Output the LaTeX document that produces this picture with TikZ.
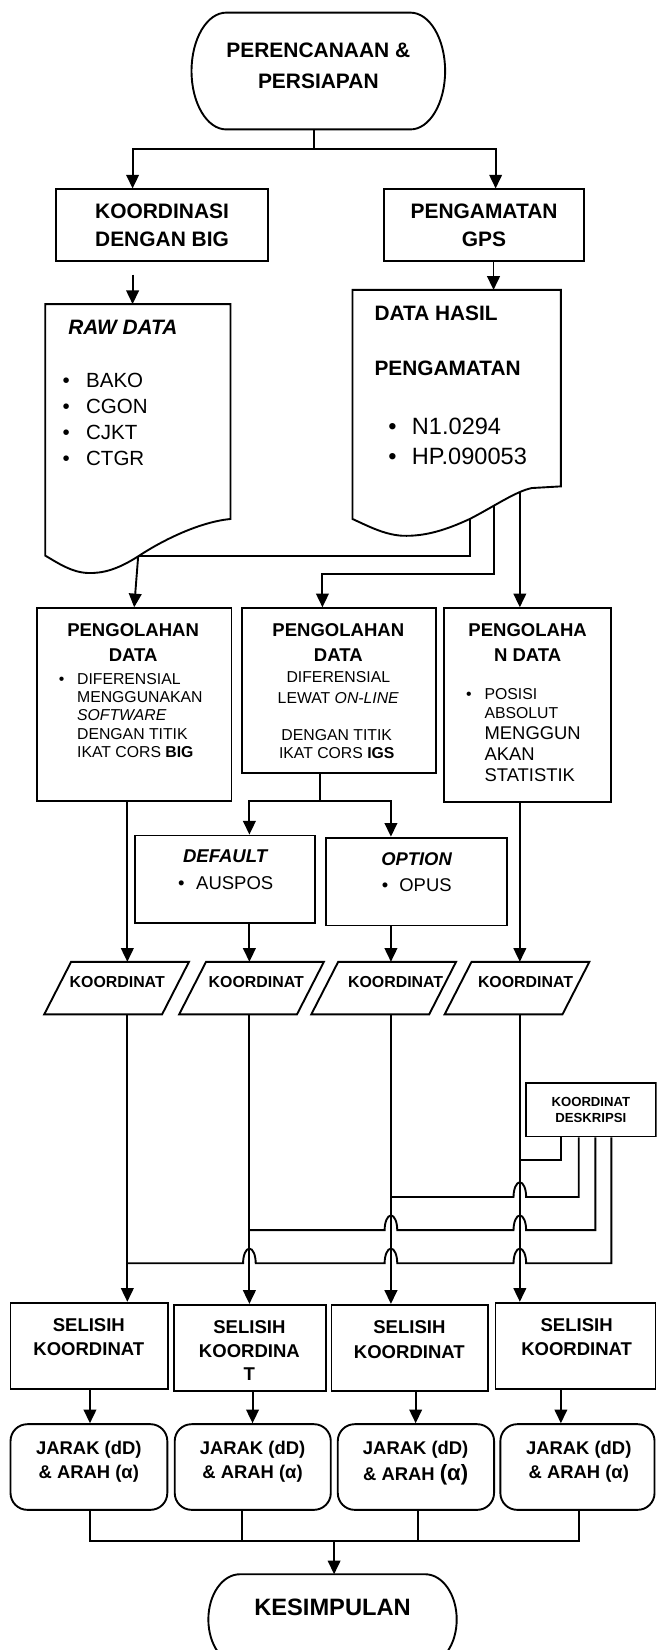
\documentclass[tikz,border=0pt]{standalone}
\usepackage{fontspec}
\setmainfont{Liberation Sans}
\usetikzlibrary{arrows.meta,calc}
\newcommand\myfs[2]{\fontsize{#1}{#2}\selectfont}
\newcommand\bul[1]{\llap{\textbullet\hspace{#1}}}
\newcommand\paral[2]{%
  \node[ghost, minimum width=112pt, minimum height=50pt] (#1) at (#2,939) {};
  \draw ([xshift=12.8pt]#1.north west) -- ([xshift=12.8pt]#1.north east) -- ([xshift=-12.8pt]#1.south east) -- ([xshift=-12.8pt]#1.south west) -- cycle;}
\begin{document}
\begin{tikzpicture}[x=1pt,y=-1pt, line width=1.8pt,
  arr/.style={-{Triangle[width=12pt,length=13pt]}},
  box/.style={draw, rectangle, inner sep=0pt},
  ghost/.style={rectangle, inner sep=0pt, outer sep=0pt},
  rbox/.style={draw, rectangle, rounded corners=16pt, inner sep=0pt},
  txt/.style={inner sep=0pt, align=center},
  ltxt/.style={inner sep=0pt, align=left, anchor=west}]
\useasboundingbox (0,0) rectangle (624,1568);
\fill[white] (0,0) rectangle (624,1568);
\clip (0,0) rectangle (624,1568);

% ---- start terminal
\node[ghost, minimum width=241pt, minimum height=111pt] (start) at (302.5,67.5) {};
\draw (215,12) -- (390,12) arc[start angle=-90,end angle=90,x radius=33,y radius=55.5] -- (215,123) arc[start angle=90,end angle=270,x radius=33,y radius=55.5] -- cycle;
\node[txt, font=\myfs{19.9}{29}\bfseries] (startt) at (302.5,62.5) {PERENCANAAN \&\\PERSIAPAN};

% ---- first level
\node[box, minimum width=202pt, minimum height=68pt, align=center, font=\myfs{19.9}{26}\bfseries] (k1) at (154,214) {KOORDINASI\\DENGAN BIG};
\node[box, minimum width=190pt, minimum height=68pt, align=center, font=\myfs{19.9}{26}\bfseries] (k2) at (460,214) {PENGAMATAN\\GPS};

\coordinate (br) at (298,142);
\draw ([xshift=-4.5pt]start.south) -- (br);
\draw[arr] (br) -| ([xshift=-28pt]k1.north);
\draw[arr] (br) -| ([xshift=11pt]k2.north);

% ---- raw data document
\node[ghost, minimum width=176pt, minimum height=239pt] (raw) at (131,408.5) {};
\draw (43,289) -- (219,289) -- (219,493.2) .. controls (190,496) and (155,513) .. (131.3,528.7) .. controls (112,541) and (98,545) .. (83.6,544.5) .. controls (68,544) and (55,535) .. (43,528) -- cycle;
\node[ltxt, font=\myfs{19.8}{24}\bfseries\itshape] (rawh) at (64,311) {RAW DATA};
\node[ltxt, font=\myfs{19.5}{24.7}] (rawl) at (81,398.25) {\bul{15.6pt}BAKO\\\bul{15.6pt}CGON\\\bul{15.6pt}CJKT\\\bul{15.6pt}CTGR};
\coordinate (k1a) at (126,261);
\draw[arr] (k1a) -- (k1a |- raw.north);

% ---- data hasil document
\node[ghost, minimum width=198pt, minimum height=217.5pt] (hasil) at (434,384.25) {};
\draw (335,275.5) -- (533,275.5) -- (533,462.2) -- (505.3,463.8) .. controls (490,467) and (470,481) .. (446.4,493.2) .. controls (425,503) and (405,510) .. (382,509.1) .. controls (365,508) and (350,500) .. (335,493.2) -- cycle;
\node[ltxt, font=\myfs{19.8}{52.5}\bfseries] (hasilh) at (355,323.75) {DATA HASIL\\PENGAMATAN};
\node[ltxt, font=\myfs{22.4}{28.7}] (hasill) at (390.6,419.35) {\bul{14.7pt}N1.0294\\\bul{14.7pt}HP.090053};
\coordinate (k2b) at ([xshift=9pt]k2.south);
\draw[arr] (k2b) -- (k2b |- hasil.north);

% ---- columns / rows
\coordinate (c1) at (121,0);
\coordinate (c2) at (237,0);
\coordinate (c3) at (371.5,0);
\coordinate (c4) at (494,0);
\coordinate (rw) at (131.3,528.7);
\coordinate (hw1) at (446.4,493.2);
\coordinate (hw2) at (469.5,480.3);
\coordinate (hw3) at (494,467.8);
\coordinate (m2) at (0,545.5);

% ---- processing boxes
\node[box, minimum width=185pt, minimum height=183pt] (p1) at (127.5,669.5) {};
\node[box, minimum width=184pt, minimum height=157pt] (p2) at (322,656.5) {};
\node[box, minimum width=159pt, minimum height=184pt] (p3) at (501.5,670) {};

\node[txt, font=\myfs{17.6}{23.6}\bfseries] (p1h) at (126.5,610.2) {PENGOLAHAN\\DATA};
\node[ltxt, font=\myfs{15}{17.5}] (p1b) at (72.4,679.9) {\bul{12pt}DIFERENSIAL\\MENGGUNAKAN\\\textit{SOFTWARE}\\DENGAN TITIK\\IKAT CORS \textbf{BIG}};

\node[txt, font=\myfs{17.6}{23.6}\bfseries] (p2h) at (321.5,610.2) {PENGOLAHAN\\DATA};
\node[txt, font=\myfs{15}{20}] (p2b1) at (321.5,653) {DIFERENSIAL\\LEWAT \textit{ON-LINE}};
\node[txt, font=\myfs{15}{17.3}] (p2b2) at (320,707.4) {DENGAN TITIK\\IKAT CORS \textbf{IGS}};

\node[txt, font=\myfs{17.6}{23.6}\bfseries] (p3h) at (501.4,610.2) {PENGOLAHA\\N DATA};
\node[ltxt, font=\myfs{15}{17.5}] (p3b1) at (459.6,668.75) {\bul{12.2pt}POSISI\\ABSOLUT};
\node[ltxt, font=\myfs{17.5}{19.85}] (p3b2) at (459.6,716.9) {MENGGUN\\AKAN\\STATISTIK};

\draw (hw1) |- (rw);
\draw[arr] (rw) -- (p1.north);
\coordinate (p2in) at ([xshift=-15.6pt]p2.north);
\draw[arr] (hw2) -- (hw2 |- m2) -| (p2in);
\draw[arr] (hw3) -- (hw3 |- p3.north);

% ---- default / option
\node[box, minimum width=171pt, minimum height=83pt] (def) at (213.5,835.5) {};
\node[box, minimum width=171.5pt, minimum height=83.5pt] (opt) at (395.75,837.75) {};
\node[txt, font=\myfs{17.6}{25.4}] (deft) at (214.5,826.3) {\textbf{\textit{DEFAULT}}\\\textbullet\hspace{11pt}AUSPOS};
\node[txt, font=\myfs{17.5}{24.7}] (optt) at (396,829.15) {\textbf{\textit{OPTION}}\\\textbullet\hspace{10.6pt}OPUS};

\coordinate (c5) at (304.4,761.4);
\draw ([xshift=-17.6pt]p2.south) -- (c5);
\draw[arr] (c5) -| (c2 |- def.north);
\draw[arr] (c5) -| (c3 |- opt.north);

% ---- koordinat parallelograms
\paral{kp1}{110.8}
\paral{kp2}{239}
\paral{kp3}{364.6}
\paral{kp4}{491.3}
\node[txt, font=\myfs{15.1}{18}\bfseries] (kt1) at (111.4,933.4) {KOORDINAT};
\node[txt, font=\myfs{15.1}{18}\bfseries] (kt2) at (243.5,933.4) {KOORDINAT};
\node[txt, font=\myfs{15.1}{18}\bfseries] (kt3) at (376,933.4) {KOORDINAT};
\node[txt, font=\myfs{15.1}{18}\bfseries] (kt4) at (499.4,933.4) {KOORDINAT};

\draw[arr] (c1 |- p1.south) -- (c1 |- kp1.north);
\draw[arr] (c2 |- def.south) -- (c2 |- kp2.north);
\draw[arr] (c3 |- opt.south) -- (c3 |- kp3.north);
\draw[arr] (c4 |- p3.south) -- (c4 |- kp4.north);

% ---- selisih boxes
\node[box, minimum width=150pt, minimum height=82pt] (s1) at (85,1279) {};
\node[box, minimum width=144.6pt, minimum height=82pt] (s2) at (237.3,1281) {};
\node[box, minimum width=148.6pt, minimum height=82pt] (s3) at (389.3,1281) {};
\node[box, minimum width=152pt, minimum height=82pt] (s4) at (546.9,1279) {};
\node[txt, font=\myfs{17.6}{23}\bfseries] (st1) at (84.4,1270.7) {SELISIH\\KOORDINAT};
\node[txt, font=\myfs{17.6}{22.7}\bfseries] (st2) at (237,1283.5) {SELISIH\\KOORDINA\\T};
\node[txt, font=\myfs{17.6}{24}\bfseries] (st3) at (389,1272.7) {SELISIH\\KOORDINAT};
\node[txt, font=\myfs{17.6}{23}\bfseries] (st4) at (548,1270.7) {SELISIH\\KOORDINAT};

\draw[arr] (c1 |- kp1.south) -- (c1 |- s1.north);
\draw[arr] (c2 |- kp2.south) -- (c2 |- s2.north);
\draw[arr] (c3 |- kp3.south) -- (c3 |- s3.north);
\draw[arr] (c4 |- kp4.south) -- (c4 |- s4.north);

% ---- koordinat deskripsi
\node[box, minimum width=123pt, minimum height=51pt, align=center, font=\myfs{12.5}{15}\bfseries] (desk) at (561.5,1054.5) {KOORDINAT\\DESKRIPSI};
\coordinate (d1) at (533.5,0);
\coordinate (d2) at (550,0);
\coordinate (d3) at (565.8,0);
\coordinate (d4) at (581,0);
\coordinate (r1) at (0,1102.7);
\coordinate (r2) at (0,1137.5);
\coordinate (r3) at (0,1169);
\coordinate (r4) at (0,1200.5);
\draw (d1 |- desk.south) -- (d1 |- r1) -- (c4 |- r1);
\draw (d2 |- desk.south) -- (d2 |- r2) -- (500,1137.5) arc[start angle=0,end angle=-180,x radius=6,y radius=14] -- (c3 |- r2);
\draw (d3 |- desk.south) -- (d3 |- r3) -- (500,1169) arc[start angle=0,end angle=-180,x radius=6,y radius=14] -- (377.5,1169) arc[start angle=0,end angle=-180,x radius=6,y radius=14] -- (c2 |- r3);
\draw (d4 |- desk.south) -- (d4 |- r4) -- (500,1200.5) arc[start angle=0,end angle=-180,x radius=6,y radius=14] -- (377.5,1200.5) arc[start angle=0,end angle=-180,x radius=6,y radius=14] -- (243,1200.5) arc[start angle=0,end angle=-180,x radius=6,y radius=14] -- (c1 |- r4);

% ---- jarak boxes
\node[rbox, minimum width=149pt, minimum height=81.4pt] (j1) at (84.5,1394.1) {};
\node[rbox, minimum width=148.3pt, minimum height=81.4pt] (j2) at (240.2,1394.1) {};
\node[rbox, minimum width=148.5pt, minimum height=81.4pt] (j3) at (395.25,1394.1) {};
\node[rbox, minimum width=146.5pt, minimum height=81.4pt] (j4) at (548.75,1394.1) {};
\node[txt, font=\myfs{17.5}{23.2}\bfseries] (jt1) at (84.4,1389) {JARAK (dD)\\\& ARAH (α)};
\node[txt, font=\myfs{17.5}{23.2}\bfseries] (jt2) at (240,1389) {JARAK (dD)\\\& ARAH (α)};
\node[txt, font=\myfs{17.5}{24.5}\bfseries] (jt3) at (395,1390.5) {JARAK (dD)\\\& ARAH {\myfs{21}{24.5}(α)}};
\node[txt, font=\myfs{17.5}{23.2}\bfseries] (jt4) at (550,1389) {JARAK (dD)\\\& ARAH (α)};

\coordinate (e1) at (85.5,0);
\coordinate (e2) at (240,0);
\coordinate (e3) at (395,0);
\coordinate (e4) at (533,0);
\draw[arr] (e1 |- s1.south) -- (e1 |- j1.north);
\draw[arr] (e2 |- s2.south) -- (e2 |- j2.north);
\draw[arr] (e3 |- s3.south) -- (e3 |- j3.north);
\draw[arr] (e4 |- s4.south) -- (e4 |- j4.north);

% ---- kesimpulan
\node[ghost, minimum width=236pt, minimum height=86pt] (kes) at (316,1539) {};
\draw (228,1496) -- (404,1496) arc[start angle=-90,end angle=90,x radius=30,y radius=43] -- (228,1582) arc[start angle=90,end angle=270,x radius=30,y radius=43] -- cycle;
\node[txt, font=\myfs{22.5}{26}\bfseries] (kest) at (316,1527.6) {KESIMPULAN};

\coordinate (f1) at (85.5,0);
\coordinate (f2) at (230,0);
\coordinate (f3) at (397,0);
\coordinate (f4) at (550,0);
\coordinate (r5) at (0,1464);
\coordinate (g) at (317.5,1464);
\draw (f1 |- j1.south) |- (f4 |- r5) -- (f4 |- j4.south);
\draw (f2 |- j2.south) -- (f2 |- r5);
\draw (f3 |- j3.south) -- (f3 |- r5);
\draw[arr] (g) -- (g |- kes.north);
\end{tikzpicture}
\end{document}
